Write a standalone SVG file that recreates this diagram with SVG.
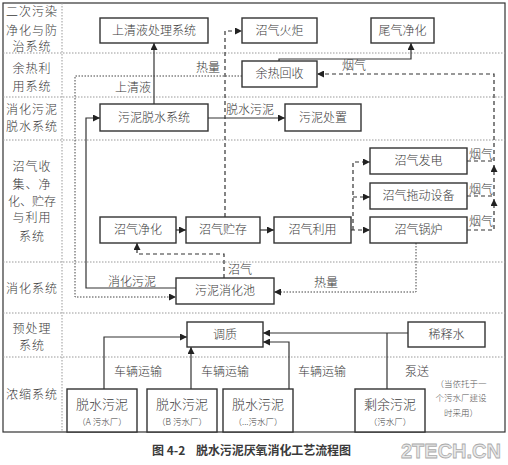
<svg xmlns="http://www.w3.org/2000/svg" width="508" height="465" viewBox="0 0 508 465">
<defs>
<marker id="ah" viewBox="0 0 10 10" refX="10" refY="5" markerWidth="7" markerHeight="7" orient="auto" markerUnits="userSpaceOnUse"><path d="M0,0 L10,5 L0,10 z" fill="#222"/></marker>
<style>
text{font-family:"Noto Sans CJK SC","Liberation Serif",serif;fill:#3a3a3a;font-size:12px;text-anchor:middle;font-weight:300}
.box{fill:#fff;stroke:#333;stroke-width:1.4}
.div{stroke:#999;stroke-width:1;stroke-dasharray:1.5,1.5;fill:none}
.s{fill:none;stroke:#333;stroke-width:1.2}
.d{fill:none;stroke:#333;stroke-width:1.2;stroke-dasharray:4,3}
.o{fill:none;stroke:#444;stroke-width:1;stroke-dasharray:1.5,1.5}
.sm{font-size:8.5px}
.big{font-size:13px}
</style>
</defs>
<rect width="508" height="465" fill="#fff"/>
<g id="frame">
<rect x="3" y="3" width="502" height="429" fill="none" stroke="#333" stroke-width="1.2"/>
<line class="div" x1="62" y1="3" x2="62" y2="432"/>
<line class="div" x1="3" y1="53" x2="505" y2="53"/>
<line class="div" x1="3" y1="97" x2="505" y2="97"/>
<line class="div" x1="3" y1="140" x2="505" y2="140"/>
<line class="div" x1="3" y1="262" x2="505" y2="262"/>
<line class="div" x1="3" y1="313" x2="505" y2="313"/>
<line class="div" x1="3" y1="357" x2="505" y2="357"/>
</g>
<g id="lanes">
<text x="32" y="16" letter-spacing="1">二次污染</text><text x="32" y="35" letter-spacing="1">净化与防</text><text x="32" y="51" letter-spacing="1">治系统</text>
<text x="32" y="73" letter-spacing="1">余热利</text><text x="32" y="91" letter-spacing="1">用系统</text>
<text x="32" y="114" letter-spacing="1">消化污泥</text><text x="32" y="131" letter-spacing="1">脱水系统</text>
<text x="32" y="171" letter-spacing="1">沼气收</text><text x="32" y="189" letter-spacing="1">集、净</text><text x="32" y="206">化、贮存</text><text x="32" y="222" letter-spacing="1">与利用</text><text x="32" y="241" letter-spacing="1">系统</text>
<text x="32" y="293" letter-spacing="1">消化系统</text>
<text x="32" y="333" letter-spacing="1">预处理</text><text x="32" y="350" letter-spacing="1">系统</text>
<text x="32" y="399" letter-spacing="1">浓缩系统</text>
</g>
<g id="connectors">
<path class="s" d="M154,104 V43" marker-end="url(#ah)"/>
<path class="s" d="M176,288 H86 V118 H100" marker-end="url(#ah)"/>
<path class="s" d="M208,118 H285" marker-end="url(#ah)"/>
<path class="s" d="M279,61 V59 H411 V43" marker-end="url(#ah)"/>
<path class="d" d="M225,217 V31 H242" marker-end="url(#ah)"/>
<path class="d" d="M224,278 V254 H137 V243" marker-end="url(#ah)"/>
<path class="s" d="M176,230 H186" marker-end="url(#ah)"/>
<path class="s" d="M260,230 H274" marker-end="url(#ah)"/>
<path class="d" d="M351,230 H370" marker-end="url(#ah)"/>
<path class="d" d="M353,230 V162 H370" marker-end="url(#ah)"/>
<path class="d" d="M353,197 H370" marker-end="url(#ah)"/>
<path class="d" d="M467,161 H494"/>
<path class="d" d="M467,196 H494"/>
<path class="d" d="M467,230 H494 V199" marker-end="url(#ah)"/>
<path class="d" d="M494,196 V165" marker-end="url(#ah)"/>
<path class="d" d="M494,161 V74 H317" marker-end="url(#ah)"/>
<path class="o" d="M242,76 H75 V297 H176" marker-end="url(#ah)"/>
<path class="o" d="M416,243 V292 H274" marker-end="url(#ah)"/>
<path class="s" d="M104,389 V337 H187" marker-end="url(#ah)"/>
<path class="s" d="M191,389 V347" marker-end="url(#ah)"/>
<path class="s" d="M289,389 V342 H263" marker-end="url(#ah)"/>
<path class="s" d="M408,333 H263" marker-end="url(#ah)"/>
<path class="s" d="M387,389 V333"/>
</g>
<g id="labels">
<text x="133" y="92">上清液</text>
<text x="208" y="72">热量</text>
<text x="250" y="114">脱水污泥</text>
<text x="354" y="70">烟气</text>
<text x="481" y="159">烟气</text>
<text x="481" y="194">烟气</text>
<text x="481" y="226">烟气</text>
<text x="240" y="274">沼气</text>
<text x="132" y="286">消化污泥</text>
<text x="326" y="287">热量</text>
<text x="138" y="376">车辆运输</text>
<text x="225" y="376">车辆运输</text>
<text x="322" y="376">车辆运输</text>
<text x="417" y="376">泵送</text>
</g>
<g id="n-sqc"><rect class="box" x="100" y="18" width="108" height="25"/><text x="154" y="35">上清液处理系统</text></g>
<g id="n-hj"><rect class="box" x="242" y="18" width="75" height="25"/><text x="279.5" y="35">沼气火炬</text></g>
<g id="n-wq"><rect class="box" x="371" y="18" width="63" height="25"/><text x="402.5" y="35">尾气净化</text></g>
<g id="n-yr"><rect class="box" x="242" y="61" width="75" height="26"/><text x="279.5" y="78">余热回收</text></g>
<g id="n-ts"><rect class="box" x="100" y="104" width="108" height="27"/><text x="154" y="122">污泥脱水系统</text></g>
<g id="n-cz"><rect class="box" x="285" y="104" width="76" height="27"/><text x="323" y="122">污泥处置</text></g>
<g id="n-fd"><rect class="box" x="370" y="148" width="97" height="26"/><text x="418.5" y="165">沼气发电</text></g>
<g id="n-td"><rect class="box" x="370" y="183" width="97" height="26"/><text x="418.5" y="200">沼气拖动设备</text></g>
<g id="n-gl"><rect class="box" x="370" y="217" width="97" height="26"/><text x="418.5" y="234">沼气锅炉</text></g>
<g id="n-ly"><rect class="box" x="274" y="217" width="77" height="26"/><text x="312.5" y="234">沼气利用</text></g>
<g id="n-zc"><rect class="box" x="186" y="217" width="74" height="26"/><text x="223" y="234">沼气贮存</text></g>
<g id="n-jh"><rect class="box" x="100" y="217" width="76" height="26"/><text x="138" y="234">沼气净化</text></g>
<g id="n-xhc"><rect class="box" x="176" y="278" width="98" height="26"/><text x="225" y="295">污泥消化池</text></g>
<g id="n-tz"><rect class="box" x="187" y="322" width="76" height="25"/><text x="225" y="339">调质</text></g>
<g id="n-xs"><rect class="box" x="408" y="322" width="77" height="25"/><text x="446.5" y="339">稀释水</text></g>
<g id="n-a"><rect class="box" x="67" y="389" width="70" height="43"/><text class="big" x="102" y="409">脱水污泥</text><text class="sm" x="102" y="425">（A 污水厂）</text></g>
<g id="n-b"><rect class="box" x="147" y="389" width="70" height="43"/><text class="big" x="182" y="409">脱水污泥</text><text class="sm" x="182" y="425">（B 污水厂）</text></g>
<g id="n-c"><rect class="box" x="223" y="389" width="70" height="43"/><text class="big" x="258" y="409">脱水污泥</text><text class="sm" x="258" y="425">（...污水厂）</text></g>
<g id="n-sy"><rect class="box" x="355" y="389" width="70" height="43"/><text class="big" x="390" y="409">剩余污泥</text><text class="sm" x="390" y="425">（污水厂）</text></g>
<g id="note">
<text class="sm" x="461" y="387" style="fill:#555">（当依托于一</text>
<text class="sm" x="461" y="401" style="fill:#555">个污水厂建设</text>
<text class="sm" x="461" y="416" style="fill:#555">时采用）</text>
</g>
<g id="caption">
<text x="152" y="455" style="font-weight:bold;font-size:12px;text-anchor:start">图 4-2</text>
<text x="196" y="455" style="font-weight:bold;font-size:12px;text-anchor:start" textLength="155" lengthAdjust="spacing">脱水污泥厌氧消化工艺流程图</text>
</g>
<text x="451" y="458" style="font-family:'Liberation Sans',sans-serif;font-weight:bold;font-size:21px;fill:#e8e8e8;stroke:#aaa;stroke-width:0.8" textLength="100" lengthAdjust="spacingAndGlyphs">2TECH.CN</text>
</svg>
